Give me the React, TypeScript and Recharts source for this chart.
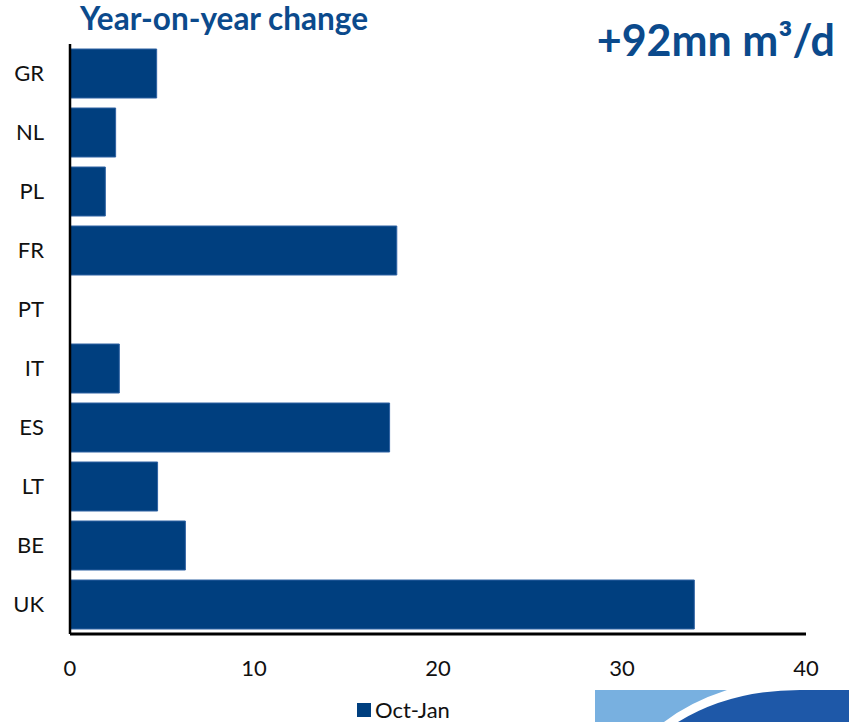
import React from 'react';
import { BarChart, Bar, XAxis, YAxis } from 'recharts';

const countries = ['GR', 'NL', 'PL', 'FR', 'PT', 'IT', 'ES', 'LT', 'BE', 'UK'];
const octJan = [4.71, 2.48, 1.92, 17.76, 0, 2.68, 17.37, 4.76, 6.27, 33.93];
const xTicks = [0, 10, 20, 30, 40];
const seriesName = 'Oct-Jan';
const titleText = 'Year-on-year change';
const totalText = '+92mn m³/d';

const data = countries.map((c, i) => ({ country: c, value: octJan[i] }));

const FONT = "Lato, 'Open Sans', 'Liberation Sans', sans-serif";
const BAR = '#003F7F';
const TITLE = '#0B4A8C';

export default function App() {
  return (
    <div style={{ position: 'absolute', left: 0, top: 0, width: 849, height: 722, background: '#fff', overflow: 'hidden' }}>
      <BarChart
        width={849}
        height={722}
        data={data}
        layout="vertical"
        margin={{ top: 44, right: 43, bottom: 58, left: 0 }}
        barSize={49}
      >
        <XAxis
          type="number"
          domain={[0, 40]}
          ticks={xTicks}
          height={30}
          tickSize={0}
          tickMargin={26}
          axisLine={{ stroke: '#000', strokeWidth: 3 }}
          tickLine={false}
          tick={{ fill: '#111', fontSize: 22, fontFamily: FONT }}
          interval={0}
        />
        <YAxis
          type="category"
          dataKey="country"
          width={70}
          tickSize={0}
          tickMargin={26}
          axisLine={{ stroke: '#000', strokeWidth: 2.5 }}
          tickLine={false}
          tick={{ fill: '#111', fontSize: 22, fontFamily: FONT }}
          interval={0}
        />
        <Bar dataKey="value" name={seriesName} fill={BAR} stroke="#2F62A3" strokeWidth={1} isAnimationActive={false} />
      </BarChart>
      <div style={{ position: 'absolute', left: 357, top: 698, height: 24, display: 'flex', alignItems: 'center', fontFamily: FONT, fontSize: 22, lineHeight: '24px', color: '#111', whiteSpace: 'nowrap' }}>
        <span style={{ display: 'inline-block', width: 14, height: 14, background: BAR, marginRight: 4 }} />
        <span>{seriesName}</span>
      </div>
      <div style={{ position: 'absolute', left: 80, top: 0, fontFamily: FONT, fontWeight: 700, fontSize: 31.5, lineHeight: '36px', color: TITLE, whiteSpace: 'nowrap' }}>
        {titleText}
      </div>
      <div style={{ position: 'absolute', right: 14, top: 16, fontFamily: FONT, fontWeight: 700, fontSize: 43, lineHeight: '48px', color: TITLE, whiteSpace: 'nowrap' }}>
        {totalText}
      </div>
      <svg style={{ position: 'absolute', left: 0, top: 0, pointerEvents: 'none' }} width={849} height={722}>
        <path d="M595 690 L727 690 Q690 702 664 722 L595 722 Z" fill="#78B0E0" />
        <path d="M678 722 Q730 690 800 690 L849 690 L849 722 Z" fill="#1E58A8" />
      </svg>
    </div>
  );
}
